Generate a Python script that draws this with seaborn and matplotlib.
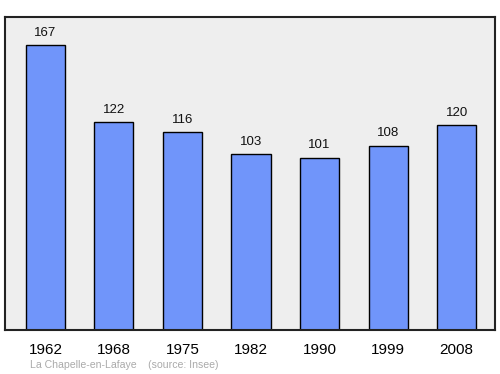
import matplotlib
matplotlib.use("Agg")
import matplotlib.pyplot as plt
import seaborn as sns
import pandas as pd

years = ["1962", "1968", "1975", "1982", "1990", "1999", "2008"]
population = [167, 122, 116, 103, 101, 108, 120]
caption = "La Chapelle-en-Lafaye    (source: Insee)"

sns.set_theme(style="white")
plt.rcParams['font.family'] = ['Liberation Sans', 'DejaVu Sans']

df = pd.DataFrame({"year": years, "pop": population})

fig = plt.figure(figsize=(5, 3.74), dpi=100)
ax = fig.add_axes([0.01, 0.1176, 0.98, 0.837])
ax.set_facecolor('#eeeeee')
sns.barplot(data=df, x="year", y="pop", color='#7095fa', saturation=1,
            width=0.57, edgecolor='black', linewidth=1, ax=ax)

for i, v in enumerate(population):
    ax.annotate(str(v), (i, v), xytext=(0, 4.5), textcoords='offset points',
                ha='center', va='bottom', fontsize=9.5, color='#111111')

ax.set_xlim(-0.59, 6.56)
ax.set_ylim(0, 183.4)
ax.set_yticks([])
ax.set_xlabel("")
ax.set_ylabel("")
ax.tick_params(axis='x', length=0, pad=9, labelsize=11, colors='black')
for s in ax.spines.values():
    s.set_visible(True)
    s.set_color('#222222')
    s.set_linewidth(1.5)

fig.text(30/500, 1 - 365/374, caption, fontsize=7.6, color='#aaaaaa',
         ha='left', va='center')

fig.savefig("out.png", dpi=100)
